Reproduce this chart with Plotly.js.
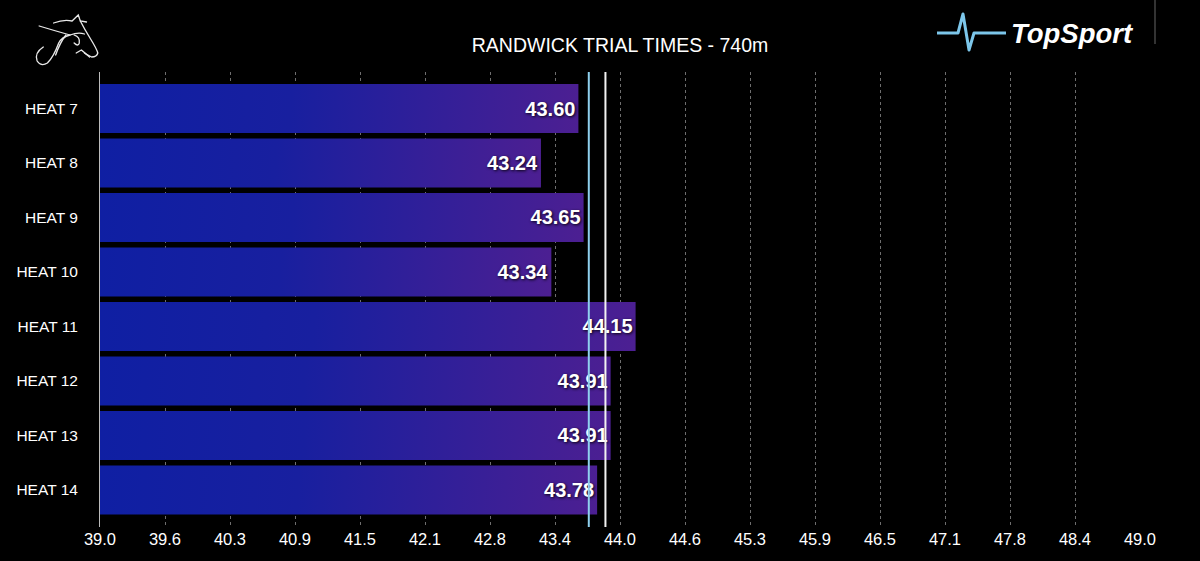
<!DOCTYPE html>
<html>
<head>
<meta charset="utf-8">
<script src="https://cdn.plot.ly/plotly-3.0.1.min.js"></script>
<style>
html,body{margin:0;padding:0;background:#000;}
#chart{width:1200px;height:561px;}
</style>
</head>
<body>
<div id="chart"></div>
<script>
// ---- data ----
const heats = ["HEAT 7","HEAT 8","HEAT 9","HEAT 10","HEAT 11","HEAT 12","HEAT 13","HEAT 14"];
const times = [43.60, 43.24, 43.65, 43.34, 44.15, 43.91, 43.91, 43.78];
const refLines = [43.70, 43.86];
const refColors = ["#8fd0ee", "#f2f2f2"];
const tickVals = [39.0, 39.625, 40.25, 40.875, 41.5, 42.125, 42.75, 43.375, 44.0, 44.625, 45.25, 45.875, 46.5, 47.125, 47.75, 48.375, 49.0];
const tickText = ["39.0","39.6","40.3","40.9","41.5","42.1","42.8","43.4","44.0","44.6","45.3","45.9","46.5","47.1","47.8","48.4","49.0"];
const chartTitle = "RANDWICK TRIAL TIMES - 740m";
const brand = "TopSport";

// ---- layout helpers (pixel -> paper) ----
const W = 1200, H = 561, ML = 100, MR = 60, MT = 72, MB = 34;
const PW = W - ML - MR, PH = H - MT - MB;
const px = x => (x - ML) / PW;
const py = y => 1 - (y - MT) / PH;

const horseSvg = 'data:image/svg+xml;utf8,' + encodeURIComponent(
 '<svg xmlns="http://www.w3.org/2000/svg" width="70" height="60" viewBox="0 0 70 60">' +
 '<g fill="none" stroke="#e8e8e8" stroke-width="1.3" stroke-linecap="round">' +
 '<path d="M6 13 Q22 18 36 22 Q44 19 50 21"/>' +
 '<path d="M20 10 Q30 6 38 8 L44 2 L46 8 L52 9"/>' +
 '<path d="M46 8 Q50 16 56 26 Q62 36 63 40 Q62 44 57 44 Q52 42 47 37 L42 40"/>' +
 '<path d="M36 22 Q28 24 25 30 Q20 44 14 50 Q8 54 4 48 Q1 40 10 34"/>' +
 '<path d="M32 22 Q26 30 22 42"/>' +
 '<path d="M40 22 Q46 24 45 30 Q44 34 40 30"/>' +
 '<path d="M50 40 Q53 42 55 44"/>' +
 '</g></svg>');

const pulseSvg = 'data:image/svg+xml;utf8,' + encodeURIComponent(
 '<svg xmlns="http://www.w3.org/2000/svg" width="72" height="40" viewBox="0 0 72 40">' +
 '<path d="M1 21 L22 21 L27 2 L33 38 L38 21 L70 21" fill="none" stroke="#7cc6ea" stroke-width="3" stroke-linejoin="round"/>' +
 '</svg>');

const trace = {
  type: "bar",
  orientation: "h",
  y: heats,
  x: times,
  marker: { color: "#2b1f9a", line: { width: 0 } },
  width: 0.9,
  text: times.map(v => v.toFixed(2)),
  textposition: "inside",
  insidetextanchor: "end",
  textangle: 0,
  constraintext: "none",
  textfont: { family: "Liberation Sans, Arial, sans-serif", size: 20, color: "#ffffff", weight: 700, shadow: "1px 1px 3px rgba(0,0,0,0.9)" },
  cliponaxis: true,
  hoverinfo: "none"
};

const shapes = refLines.map((v, i) => ({
  type: "line", xref: "x", yref: "paper",
  x0: v, x1: v, y0: 0, y1: 1,
  line: { color: refColors[i], width: 2 },
  layer: "above"
}));
// thin vertical rule at top right
shapes.push({ type: "line", xref: "paper", yref: "paper", x0: px(1155), x1: px(1155), y0: py(0), y1: py(44), line: { color: "#666", width: 1 } });

const layout = {
  width: W, height: H,
  paper_bgcolor: "#000", plot_bgcolor: "#000",
  margin: { l: ML, r: MR, t: MT, b: MB, pad: 0 },
  font: { family: "Liberation Sans, Arial, sans-serif", color: "#ffffff" },
  title: { text: chartTitle, font: { size: 19.5, color: "#ffffff" }, xref: "paper", x: 0.5, xanchor: "center", y: 1 - 45 / H, yanchor: "middle" },
  showlegend: false,
  bargap: 0.1,
  xaxis: {
    range: [39, 49],
    tickmode: "array", tickvals: tickVals, ticktext: tickText,
    showgrid: true, gridcolor: "#6e6e6e", gridwidth: 1, griddash: "dot",
    zeroline: false, showline: false, ticks: "",
    tickfont: { size: 16.5, color: "#ffffff" },
    fixedrange: true
  },
  yaxis: {
    type: "category",
    range: [7.68, -0.67],
    showgrid: false, zeroline: false,
    showline: true, linecolor: "#bbbbbb", linewidth: 1,
    ticks: "", ticklabelstandoff: 18,
    tickfont: { size: 15.5, color: "#ffffff" },
    fixedrange: true
  },
  shapes: shapes,
  images: [
    { source: horseSvg, xref: "paper", yref: "paper", x: px(33), y: py(13), sizex: 72 / PW, sizey: 60 / PH, xanchor: "left", yanchor: "top", sizing: "stretch", layer: "above" },
    { source: pulseSvg, xref: "paper", yref: "paper", x: px(936), y: py(12), sizex: 72 / PW, sizey: 40 / PH, xanchor: "left", yanchor: "top", sizing: "stretch", layer: "above" }
  ],
  annotations: [
    { text: brand, xref: "paper", yref: "paper", x: px(1009), y: py(33), xanchor: "left", yanchor: "middle", showarrow: false,
      font: { family: "Liberation Sans, Arial, sans-serif", size: 27.5, color: "#ffffff", weight: 700, style: "italic" } }
  ]
};

Plotly.newPlot("chart", [trace], layout, { displayModeBar: false, staticPlot: true }).then(gd => {
  const svg = gd.querySelector(".main-svg");
  const ns = "http://www.w3.org/2000/svg";
  let defs = svg.querySelector("defs");
  if (!defs) { defs = document.createElementNS(ns, "defs"); svg.insertBefore(defs, svg.firstChild); }
  const xa = gd._fullLayout.xaxis;
  const x0 = xa.l2p(xa.range[0]);
  gd.querySelectorAll(".bars .point path").forEach((p, i) => {
    const bb = p.getBBox();
    const g = document.createElementNS(ns, "linearGradient");
    g.setAttribute("id", "barGrad" + i);
    g.setAttribute("gradientUnits", "userSpaceOnUse");
    g.setAttribute("x1", x0); g.setAttribute("y1", bb.y);
    g.setAttribute("x2", bb.x + bb.width); g.setAttribute("y2", bb.y + bb.height * 0.6);
    [["0%", "#0f1fa3"], ["40%", "#181f9f"], ["100%", "#4c1f92"]].forEach(([o, c]) => {
      const s = document.createElementNS(ns, "stop");
      s.setAttribute("offset", o); s.setAttribute("stop-color", c);
      g.appendChild(s);
    });
    defs.appendChild(g);
    p.style.fill = "url(#barGrad" + i + ")";
  });
});
</script>
</body>
</html>
